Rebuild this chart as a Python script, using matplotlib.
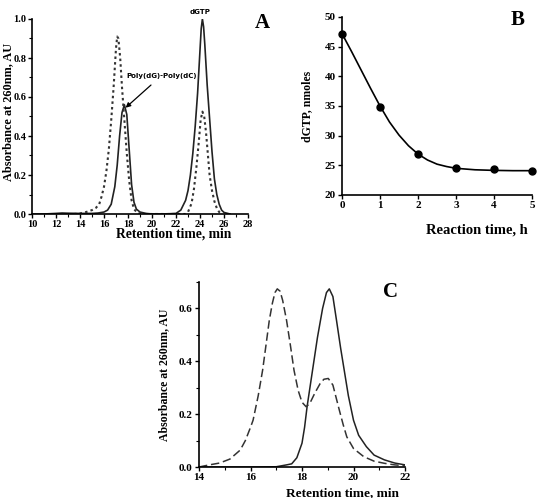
import matplotlib
matplotlib.use('Agg')
import matplotlib.pyplot as plt
from matplotlib.ticker import MultipleLocator

plt.rcParams['font.family'] = 'Liberation Serif'
plt.rcParams['font.weight'] = 'bold'

# panel A: chromatograms
a_solid_t = [10.0, 11.0, 12.0, 12.5, 13.0, 14.0, 15.0, 15.5, 16.0, 16.3, 16.6, 16.9, 17.1, 17.3,
             17.5, 17.7, 17.9, 18.1, 18.3, 18.5, 18.7, 19.0, 19.5, 20.0, 21.0, 22.0, 22.4, 22.8,
             23.0, 23.2, 23.4, 23.6, 23.8, 24.0, 24.1, 24.2, 24.3, 24.4, 24.6, 24.8, 25.0, 25.2,
             25.4, 25.6, 25.8, 26.0, 26.5]
a_solid_y = [0.0, 0.0, 0.003, 0.005, 0.004, 0.003, 0.003, 0.005, 0.01, 0.02, 0.05, 0.14, 0.25, 0.4,
             0.52, 0.56, 0.51, 0.33, 0.15, 0.06, 0.025, 0.01, 0.003, 0.0, 0.0, 0.003, 0.02, 0.07,
             0.12, 0.2, 0.31, 0.45, 0.62, 0.84, 0.95, 1.0, 0.96, 0.87, 0.66, 0.49, 0.32, 0.18,
             0.1, 0.05, 0.02, 0.008, 0.0]
a_dot_t = [13.5, 14.0, 14.5, 15.0, 15.3, 15.6, 15.8, 16.0, 16.2, 16.4, 16.6, 16.8, 17.0, 17.1,
           17.2, 17.35, 17.5, 17.7, 17.9, 18.1, 18.3, 18.5, 18.8, 19.2, 22.8, 23.0, 23.3, 23.5,
           23.7, 23.9, 24.05, 24.2, 24.35, 24.5, 24.65, 24.8, 25.0, 25.2, 25.4, 25.6, 25.8]
a_dot_y = [0.0, 0.003, 0.01, 0.02, 0.03, 0.05, 0.09, 0.14, 0.22, 0.33, 0.48, 0.65, 0.85, 0.91,
           0.9, 0.8, 0.65, 0.48, 0.31, 0.17, 0.07, 0.025, 0.005, 0.0, 0.0, 0.01, 0.055, 0.13,
           0.24, 0.37, 0.48, 0.525, 0.5, 0.42, 0.31, 0.2, 0.12, 0.065, 0.03, 0.01, 0.0]

# panel B: dGTP vs reaction time
b_time = [0, 1, 2, 3, 4, 5]
b_dgtp = [47.2, 34.9, 26.9, 24.6, 24.3, 24.1]
b_curve_t = [0, 0.25, 0.5, 0.75, 1.0, 1.25, 1.5, 1.75, 2.0, 2.25, 2.5, 2.75, 3.0, 3.5, 4.0, 4.5, 5.0]
b_curve_y = [47.2, 44.2, 41.1, 38.0, 35.0, 32.3, 30.1, 28.3, 26.9, 25.9, 25.2, 24.8, 24.5, 24.25,
             24.15, 24.1, 24.1]

# panel C: chromatograms
c_solid_t = [14.0, 16.0, 17.0, 17.4, 17.6, 17.8, 18.0, 18.1, 18.2, 18.4, 18.6, 18.8, 18.95, 19.06,
             19.2, 19.34, 19.5, 19.64, 19.8, 20.0, 20.2, 20.5, 20.8, 21.2, 21.6, 22.0]
c_solid_y = [0.0, 0.0, 0.001, 0.008, 0.012, 0.035, 0.09, 0.15, 0.23, 0.36, 0.49, 0.6, 0.66, 0.674,
             0.645, 0.555, 0.45, 0.366, 0.27, 0.177, 0.12, 0.077, 0.045, 0.027, 0.015, 0.008]
c_dash_t = [14.0, 14.4, 14.8, 15.2, 15.6, 15.8, 16.0, 16.1, 16.3, 16.47, 16.6, 16.73, 16.85, 16.95,
            17.04, 17.15, 17.25, 17.4, 17.55, 17.69, 17.85, 18.0, 18.16, 18.3, 18.5, 18.7, 18.85,
            19.02, 19.2, 19.45, 19.6, 19.74, 20.0, 20.4, 20.8, 21.2, 21.6, 22.0]
c_dash_y = [0.0, 0.008, 0.015, 0.03, 0.064, 0.1, 0.15, 0.177, 0.27, 0.366, 0.46, 0.555, 0.62, 0.66,
            0.674, 0.665, 0.63, 0.555, 0.46, 0.366, 0.29, 0.245, 0.228, 0.24, 0.28, 0.315, 0.332,
            0.335, 0.31, 0.215, 0.16, 0.114, 0.07, 0.039, 0.022, 0.014, 0.008, 0.005]

fig = plt.figure(figsize=(5.37, 4.98), dpi=100)
W, H = 537.0, 498.0


def make_axes(l, r, t, b):
    ax = fig.add_axes([l / W, 1 - b / H, (r - l) / W, (b - t) / H])
    ax.spines['top'].set_visible(False)
    ax.spines['right'].set_visible(False)
    for s in ['left', 'bottom']:
        ax.spines[s].set_linewidth(1.2)
    ax.tick_params(which='major', direction='out', length=3, width=1, labelsize=8, pad=1.5)
    ax.tick_params(which='minor', direction='out', length=2, width=0.8)
    return ax


# A
axA = make_axes(32, 248, 19, 214)
axA.tick_params(which='major', labelsize=7.5, pad=1)
axA.plot(a_solid_t, a_solid_y, color='#222222', lw=1.2)
axA.plot(a_dot_t, a_dot_y, color='#333333', lw=1.5, ls=(0, (1.2, 1.5)))
axA.set_xlim(10, 28)
axA.set_ylim(0, 1.0)
axA.xaxis.set_major_locator(MultipleLocator(2))
axA.xaxis.set_minor_locator(MultipleLocator(1))
axA.yaxis.set_major_locator(MultipleLocator(0.2))
axA.yaxis.set_minor_locator(MultipleLocator(0.1))
axA.yaxis.set_major_formatter(plt.FuncFormatter(lambda v, p: f'{v:.1f}'))
fig.text(8 / W, 1 - 112 / H, 'Absorbance at 260nm, AU', fontsize=8.8, fontweight='bold',
         rotation=90, ha='center', va='center')
axA.text(24.0, 1.02, 'dGTP', family='DejaVu Sans', fontsize=5, fontweight='bold',
         ha='center', va='bottom', clip_on=False)
axA.annotate('Poly(dG)-Poly(dC)', xy=(17.8, 0.545), xytext=(20.8, 0.71),
             family='DejaVu Sans', fontsize=5, fontweight='bold', ha='center', va='center',
             arrowprops=dict(arrowstyle='-|>', color='black', lw=0.9, mutation_scale=7,
                             shrinkA=4, shrinkB=0))
fig.text(174 / W, 1 - 234 / H, 'Retention time, min', fontsize=9.8, fontweight='bold',
         ha='center', va='center')
fig.text(262 / W, 1 - 23 / H, 'A', fontsize=15, fontweight='bold', ha='center', va='center')

# B
axB = make_axes(342, 532, 17, 195)
axB.plot(b_curve_t, b_curve_y, color='black', lw=1.2)
axB.plot(b_time, b_dgtp, 'o', color='black', ms=5)
axB.set_xlim(0, 5)
axB.set_ylim(20, 50)
axB.xaxis.set_major_locator(MultipleLocator(1))
axB.yaxis.set_major_locator(MultipleLocator(5))
axB.set_ylabel('dGTP, nmoles', fontsize=8.5, fontweight='bold', labelpad=8)
for p in axB.lines:
    p.set_clip_on(False)
fig.text(477 / W, 1 - 230 / H, 'Reaction time, h', fontsize=10.5, fontweight='bold',
         ha='center', va='center')
fig.text(518 / W, 1 - 20 / H, 'B', fontsize=15, fontweight='bold', ha='center', va='center')

# C
axC = make_axes(199, 405, 282, 467)
axC.plot(c_solid_t, c_solid_y, color='#222222', lw=1.1)
axC.plot(c_dash_t, c_dash_y, color='#333333', lw=1.1, ls=(0, (5.5, 2.5)))
axC.set_xlim(14, 22)
axC.set_ylim(0, 0.7)
axC.xaxis.set_major_locator(MultipleLocator(2))
axC.xaxis.set_minor_locator(MultipleLocator(1))
axC.yaxis.set_major_locator(MultipleLocator(0.2))
axC.yaxis.set_minor_locator(MultipleLocator(0.1))
axC.yaxis.set_major_formatter(plt.FuncFormatter(lambda v, p: f'{v:.1f}'))
axC.set_ylabel('Absorbance at 260nm, AU', fontsize=8.5, fontweight='bold', labelpad=6)
fig.text(342 / W, 1 - 493 / H, 'Retention time, min', fontsize=9.5, fontweight='bold',
         ha='center', va='center')
fig.text(390 / W, 1 - 292 / H, 'C', fontsize=15, fontweight='bold', ha='center', va='center')

for ax in (axA, axB, axC):
    for lab in ax.get_xticklabels() + ax.get_yticklabels():
        lab.set_fontweight('bold')

fig.savefig('out.png', dpi=100)
